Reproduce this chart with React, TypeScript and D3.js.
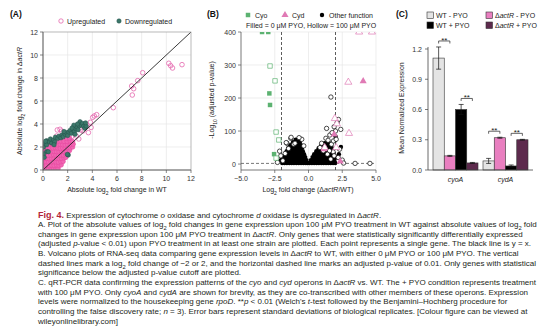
import React from "react";
import * as d3 from "d3";

const FONT = "'Liberation Sans', Arial, Helvetica, sans-serif";

// ---------------- Panel A data ----------------
const aTicks = [0, 2, 4, 6, 8, 10, 12];
const upOutliers: number[][] = [
  [11.27, 9.16], [10.2, 9.28], [10.35, 9.07], [10.5, 8.87], [8.08, 8.46], [7.68, 7.77],
  [7.19, 7.3], [7.35, 7.07], [7.24, 6.52], [5.7, 5.42], [4.35, 4.81], [4.16, 4.7],
  [4.03, 4.58], [3.84, 4.15], [3.68, 3.25], [3.05, 3.48], [1.38, 3.54], [1.16, 3.48],
  [1.5, 3.38], [1.1, 2.95], [2.32, 2.9], [3.55, 3.95], [3.25, 3.4], [2.7, 2.95],
  [1.75, 3.2], [3.9, 3.7], [2.9, 2.7],
];
const upDense: number[][] = [
  [0.05, 0.1], [0.25, 0.12], [0.45, 0.08], [0.66, 0.1], [0.85, 0.13], [1.05, 0.1], [1.22, 0.12],
  [0.1, 0.4], [0.3, 0.42], [0.5, 0.38], [0.7, 0.41], [0.9, 0.4], [1.1, 0.43], [1.3, 0.39], [1.48, 0.45],
  [0.05, 0.7], [0.25, 0.72], [0.45, 0.69], [0.65, 0.7], [0.85, 0.73], [1.05, 0.7], [1.25, 0.68], [1.45, 0.72], [1.63, 0.75],
  [0.1, 1.0], [0.3, 1.02], [0.5, 0.98], [0.7, 1.01], [0.9, 1.0], [1.1, 1.03], [1.3, 0.99], [1.5, 1.02], [1.7, 1.05], [1.85, 1.1],
  [0.05, 1.3], [0.25, 1.32], [0.45, 1.29], [0.65, 1.3], [0.85, 1.33], [1.05, 1.3], [1.25, 1.28], [1.45, 1.31], [1.65, 1.3], [1.85, 1.34], [2.0, 1.4],
  [0.1, 1.6], [0.3, 1.62], [0.5, 1.59], [0.7, 1.6], [0.9, 1.63], [1.1, 1.6], [1.3, 1.58], [1.5, 1.61], [1.7, 1.6], [1.9, 1.64], [2.15, 1.7],
  [0.05, 1.9], [0.3, 1.92], [0.55, 1.89], [0.8, 1.9], [1.0, 1.93], [1.2, 1.9], [1.4, 1.88], [1.6, 1.91], [1.8, 1.9], [2.0, 1.94], [2.2, 1.92], [2.4, 2.0],
  [0.5, 2.2], [0.75, 2.22], [1.0, 2.19], [1.2, 2.2], [1.4, 2.23], [1.6, 2.2], [1.8, 2.18], [2.0, 2.21], [2.2, 2.2], [2.45, 2.25],
  [1.2, 2.5], [1.45, 2.52], [1.7, 2.49], [1.95, 2.5], [2.2, 2.53], [2.4, 2.48],
  [1.9, 2.75], [2.15, 2.78],
];
const down: number[][] = [
  [0.05, 2.0], [0.15, 2.3], [0.3, 2.55], [0.3, 2.2], [0.5, 2.45], [0.7, 2.35], [0.6, 2.7], [0.85, 2.6],
  [0.95, 2.45], [1.0, 2.85], [1.2, 2.75], [1.3, 2.95], [1.45, 2.8], [1.55, 3.05], [1.65, 2.9], [1.8, 3.1],
  [1.9, 3.25], [2.0, 3.0], [2.1, 3.3], [2.2, 3.45], [2.3, 3.2], [2.45, 3.5], [2.55, 3.35], [2.65, 3.6],
  [2.75, 3.75], [2.85, 3.5], [2.95, 3.85], [3.0, 4.2], [3.1, 3.9], [3.2, 4.05], [3.3, 3.8], [3.4, 3.62],
  [3.5, 3.83], [3.45, 4.1], [2.5, 3.9], [2.8, 4.0], [0.3, 1.6], [0.43, 1.59], [0.2, 2.5], [2.05, 1.3],
  [1.97, 1.36], [0.9, 2.2], [1.7, 3.35], [2.35, 3.65], [0.05, 1.4], [0.1, 1.1], [2.6, 3.1],
];

// ---------------- Panel B data ----------------
const bXTicks = [-5, -2.5, 0, 2.5, 5];
const bYTicks = [0, 100, 200, 300, 400];
const fcCutoffs = [-2, 2];
const pCutoff = 2;
const cyoFilled: number[][] = [[-3.44, 400], [-2.98, 400], [-2.9, 214], [-2.85, 179], [-2.55, 30]];
const cyoHollow: number[][] = [[-2.85, 297], [-2.48, 252], [-2.4, 97], [-2.2, 73], [-2.4, 18]];
const cydFilled: number[][] = [[4.05, 251], [1.9, 90], [2.35, 8], [1.15, 45]];
const cydHollow: number[][] = [[1.95, 138], [2.1, 122], [3.0, 93], [2.95, 248], [3.75, 400], [4.7, 400], [1.2, 50], [2.05, 50]];
const otherFilled: number[][] = [
  [-1.95, 3], [-1.78, 3], [-1.6, 3], [-1.42, 3], [-1.25, 3], [-1.08, 3], [-0.9, 3], [-0.72, 3], [-0.55, 3], [-0.38, 3], [-0.2, 3], [-0.07, 3],
  [-1.88, 12], [-1.7, 12], [-1.52, 12], [-1.35, 12], [-1.18, 12], [-1.0, 12], [-0.83, 12], [-0.66, 12], [-0.48, 12], [-0.3, 12], [-0.15, 12],
  [-1.8, 21], [-1.62, 21], [-1.45, 21], [-1.28, 21], [-1.1, 21], [-0.93, 21], [-0.76, 21], [-0.58, 21], [-0.4, 21], [-0.24, 21],
  [-1.72, 30], [-1.55, 30], [-1.38, 30], [-1.2, 30], [-1.03, 30], [-0.86, 30], [-0.68, 30], [-0.5, 30], [-0.33, 30],
  [-1.62, 39], [-1.45, 39], [-1.28, 39], [-1.1, 39], [-0.93, 39], [-0.76, 39], [-0.58, 39], [-0.42, 39],
  [-1.5, 48], [-1.33, 48], [-1.16, 48], [-0.98, 48], [-0.8, 48], [-0.63, 48], [-0.5, 48],
  [-1.35, 57], [-1.18, 57], [-1.0, 57], [-0.83, 57], [-0.66, 57], [-0.56, 57],
  [-1.15, 66], [-0.98, 66], [-0.82, 66], [-0.65, 66],
  [-0.95, 74], [-0.8, 74], [-0.7, 73],
  [0.08, 3], [0.25, 3], [0.42, 3], [0.6, 3], [0.77, 3], [0.95, 3], [1.12, 3], [1.3, 3], [1.47, 3], [1.65, 3], [1.82, 3], [1.98, 3],
  [0.18, 12], [0.35, 12], [0.52, 12], [0.7, 12], [0.87, 12], [1.05, 12], [1.22, 12], [1.4, 12], [1.57, 12], [1.75, 12], [1.92, 12],
  [0.3, 21], [0.47, 21], [0.65, 21], [0.82, 21], [1.0, 21], [1.17, 21], [1.35, 21], [1.52, 21], [1.7, 21], [1.87, 21],
  [0.42, 30], [0.6, 30], [0.77, 30], [0.95, 30], [1.12, 30], [1.3, 30], [1.47, 30], [1.65, 30], [1.82, 30],
  [0.58, 39], [0.75, 39], [0.93, 39], [1.1, 39], [1.28, 39], [1.45, 39], [1.62, 39], [1.78, 39],
  [0.75, 48], [0.92, 48], [1.1, 48], [1.27, 48], [1.45, 48], [1.62, 48], [1.75, 48],
  [0.95, 56], [1.12, 56], [1.3, 56], [1.47, 56], [1.62, 56],
  [1.2, 63], [1.38, 63], [1.52, 63],
  [-1.8, 22], [-2.05, 12], [2.0, 84], [2.05, 20], [2.4, 52], [2.25, 30], [1.96, 71],
];
const otherHollow: number[][] = [
  [1.66, 203], [2.22, 135], [2.12, 125], [1.9, 113], [2.39, 105], [1.34, 108], [1.58, 88], [1.29, 78],
  [0.97, 63], [-1.31, 78], [-1.6, 63], [-2.14, 39], [-1.48, 47], [-1.73, 32], [1.82, 37], [-1.65, 65],
  [-1.29, 81], [2.0, 100], [1.75, 95], [1.45, 72], [1.7, 60], [2.3, 45], [1.55, 40], [1.9, 25], [2.2, 20],
  [2.5, 12], [1.4, 30], [-1.9, 10], [-2.05, 25], [-1.1, 60], [-0.5, 75], [-0.7, 80], [-0.35, 55], [1.2, 52],
  [1.1, 40], [1.85, 70], [2.05, 75], [3.45, 2], [4.55, 2], [2.6, 3], [-2.3, 5], [-1.0, 63], [0.85, 50], [1.65, 15],
];

// ---------------- Panel C data ----------------
const genes = ["cyoA", "cydA"];
const conditions = ["WT - PYO", "ΔactR - PYO", "WT + PYO", "ΔactR + PYO"];
const cyoMeans = [1.11, 0.14, 0.6, 0.07];
const cyoSD = [0.11, 0.005, 0.05, 0.005];
const cydMeans = [0.09, 0.32, 0.04, 0.3];
const cydSD = [0.025, 0.005, 0.01, 0.004];
const cTicks = [0, 0.3, 0.6, 0.9, 1.2];
const sigPairs = [[0, 1], [2, 3]];
const condColors = ["#e4e4e4", "#e97fc0", "#000000", "#5d2a4d"];

const PINK = "#e466ad";
const TEAL = "#3b7769";
const GREEN = "#5cb271";
const CYD = "#e07ab5";

function Sub({ t }: { t: string }) {
  return <tspan baselineShift="sub" fontSize="0.72em">{t}</tspan>;
}

function PanelA() {
  const x = d3.scaleLinear().domain([0, 12]).range([43, 191]);
  const y = d3.scaleLinear().domain([0, 12]).range([170, 32]);
  return (
    <g>
      <defs>
        <clipPath id="clipA"><rect x={x(0)} y={y(12)} width={x(12) - x(0)} height={y(0) - y(12)} /></clipPath>
      </defs>
      {aTicks.slice(1, -1).map((t) => (
        <g key={"g" + t}>
          <line x1={x(t)} x2={x(t)} y1={y(0)} y2={y(12)} stroke="#e6e6e6" strokeWidth={0.7} />
          <line x1={x(0)} x2={x(12)} y1={y(t)} y2={y(t)} stroke="#e6e6e6" strokeWidth={0.7} />
        </g>
      ))}
      <g clipPath="url(#clipA)">
        {upDense.map((d, i) => (
          <circle key={"ud" + i} cx={x(d[0])} cy={y(d[1])} r={2.3} fill="#f065b2" stroke="#e8489f" strokeWidth={0.6} />
        ))}
        {upOutliers.map((d, i) => (
          <circle key={"uo" + i} cx={x(d[0])} cy={y(d[1])} r={2.3} fill="none" stroke={PINK} strokeWidth={0.8} />
        ))}
        {down.map((d, i) => (
          <circle key={"dn" + i} cx={x(d[0])} cy={y(d[1])} r={2.2} fill={TEAL} stroke="#22504a" strokeWidth={0.5} />
        ))}
        <line x1={x(0)} y1={y(0)} x2={x(12)} y2={y(12)} stroke="#222" strokeWidth={0.9} />
      </g>
      <rect x={x(0)} y={y(12)} width={x(12) - x(0)} height={y(0) - y(12)} fill="none" stroke="#9a9a9a" strokeWidth={0.7} />
      <line x1={x(0)} x2={x(0)} y1={y(0)} y2={y(12)} stroke="#555" strokeWidth={0.8} />
      <line x1={x(0)} x2={x(12)} y1={y(0)} y2={y(0)} stroke="#555" strokeWidth={0.8} />
      {aTicks.map((t) => (
        <g key={"t" + t} fontSize={7} fill="#333">
          <line x1={x(0) - 3} x2={x(0)} y1={y(t)} y2={y(t)} stroke="#555" strokeWidth={0.7} />
          <text x={x(0) - 5} y={y(t) + 2.5} textAnchor="end">{t}</text>
          <line x1={x(t)} x2={x(t)} y1={y(0)} y2={y(0) + 3} stroke="#555" strokeWidth={0.7} />
          <text x={x(t)} y={y(0) + 10.5} textAnchor="middle">{t}</text>
        </g>
      ))}
      <text x={117} y={192} textAnchor="middle" fontSize={7} fill="#222">
        Absolute log<Sub t="2" /> fold change in WT
      </text>
      <text transform="translate(22,101) rotate(-90)" textAnchor="middle" fontSize={7} fill="#222">
        Absolute log<Sub t="2" /> fold change in Δ<tspan fontStyle="italic">actR</tspan>
      </text>
      <text x={10} y={17} fontSize={8.5} fontWeight="bold" fill="#111">(A)</text>
      <circle cx={61} cy={21} r={2.2} fill="none" stroke={PINK} strokeWidth={0.8} />
      <text x={67} y={23.5} fontSize={7} fill="#222">Upregulated</text>
      <circle cx={119} cy={21} r={2.2} fill={TEAL} stroke="#22504a" strokeWidth={0.5} />
      <text x={125} y={23.5} fontSize={7} fill="#222">Downregulated</text>
    </g>
  );
}

function PanelB() {
  const x = d3.scaleLinear().domain([-5, 5]).range([241, 376]);
  const y = d3.scaleLinear().domain([-18, 400]).range([170, 32]);
  const sq = d3.symbol().type(d3.symbolSquare).size(20)() as string;
  const tri = d3.symbol().type(d3.symbolTriangle).size(22)() as string;
  return (
    <g>
      <defs>
        <clipPath id="clipB"><rect x={x(-5)} y={y(400)} width={x(5) - x(-5) + 4} height={y(-18) - y(400)} /></clipPath>
      </defs>
      {bXTicks.slice(1).map((t) => (
        <line key={"gx" + t} x1={x(t)} x2={x(t)} y1={y(-18)} y2={y(400)} stroke="#e6e6e6" strokeWidth={0.7} />
      ))}
      {bYTicks.slice(1).map((t) => (
        <line key={"gy" + t} x1={x(-5)} x2={x(5)} y1={y(t)} y2={y(t)} stroke="#e6e6e6" strokeWidth={0.7} />
      ))}
      {fcCutoffs.map((c) => (
        <line key={"fc" + c} x1={x(c)} x2={x(c)} y1={y(-18)} y2={y(400)} stroke="#333" strokeWidth={0.8} strokeDasharray="3,2" />
      ))}
      <line x1={x(-5)} x2={x(5)} y1={y(pCutoff)} y2={y(pCutoff)} stroke="#555" strokeWidth={0.8} strokeDasharray="3,2" />
      <g clipPath="url(#clipB)">
        {otherFilled.map((d, i) => (
          <circle key={"of" + i} cx={x(d[0])} cy={y(d[1])} r={2.2} fill="#000" />
        ))}
        {otherHollow.map((d, i) => (
          <circle key={"oh" + i} cx={x(d[0])} cy={y(d[1])} r={2.2} fill="#fff" stroke="#000" strokeWidth={0.7} />
        ))}
        {cyoFilled.map((d, i) => (
          <path key={"cf" + i} d={sq} transform={`translate(${x(d[0])},${y(d[1])})`} fill={GREEN} />
        ))}
        {cyoHollow.map((d, i) => (
          <path key={"ch" + i} d={sq} transform={`translate(${x(d[0])},${y(d[1])})`} fill="#fff" stroke={GREEN} strokeWidth={0.7} />
        ))}
        {cydFilled.map((d, i) => (
          <path key={"df" + i} d={tri} transform={`translate(${x(d[0])},${y(d[1])})`} fill={CYD} />
        ))}
        {cydHollow.map((d, i) => (
          <path key={"dh" + i} d={tri} transform={`translate(${x(d[0])},${y(d[1])})`} fill="#fff" stroke={CYD} strokeWidth={0.7} />
        ))}
      </g>
      <line x1={x(-5)} x2={x(-5)} y1={y(-18)} y2={y(400)} stroke="#555" strokeWidth={0.8} />
      <line x1={x(-5)} x2={x(5)} y1={y(-18)} y2={y(-18)} stroke="#555" strokeWidth={0.8} />
      {bYTicks.map((t) => (
        <g key={"yt" + t} fontSize={7} fill="#333">
          <line x1={x(-5) - 3} x2={x(-5)} y1={y(t)} y2={y(t)} stroke="#555" strokeWidth={0.7} />
          <text x={x(-5) - 5} y={y(t) + 2.5} textAnchor="end">{t}</text>
        </g>
      ))}
      {bXTicks.map((t) => (
        <g key={"xt" + t} fontSize={7} fill="#333">
          <line x1={x(t)} x2={x(t)} y1={y(-18)} y2={y(-18) + 3} stroke="#555" strokeWidth={0.7} />
          <text x={x(t)} y={y(-18) + 10.5} textAnchor="middle">{d3.format(".1f")(t)}</text>
        </g>
      ))}
      <text x={308} y={192} textAnchor="middle" fontSize={7} fill="#222">
        Log<Sub t="2" /> fold change (Δ<tspan fontStyle="italic">actR</tspan>/WT)
      </text>
      <text transform="translate(214,100) rotate(-90)" textAnchor="middle" fontSize={7} fill="#222">
        -Log<Sub t="10" /> (adjusted p-value)
      </text>
      <text x={207} y={17} fontSize={8.5} fontWeight="bold" fill="#111">(B)</text>
      <path d={sq} transform="translate(248,15)" fill={GREEN} />
      <text x={255} y={17.5} fontSize={7} fill="#222">Cyo</text>
      <path d={tri} transform="translate(285,15)" fill={CYD} />
      <text x={292} y={17.5} fontSize={7} fill="#222">Cyd</text>
      <circle cx={322} cy={15} r={2.2} fill="#000" />
      <text x={329} y={17.5} fontSize={7} fill="#222">Other function</text>
      <text x={246} y={27.5} fontSize={7} fill="#222">Filled = 0 μM PYO, Hollow = 100 μM PYO</text>
    </g>
  );
}

function PanelC() {
  const y = d3.scaleLinear().domain([0, 1.2]).range([170, 49]);
  const xg = d3.scaleBand().domain(genes).range([428, 533]).paddingInner(0.1).paddingOuter(0.1);
  const xc = d3.scaleBand().domain(conditions).range([0, xg.bandwidth()]);
  const means = [cyoMeans, cydMeans];
  const sds = [cyoSD, cydSD];
  return (
    <g>
      {genes.map((g, gi) => (
        <g key={g} transform={`translate(${xg(g)},0)`}>
          {conditions.map((c, ci) => {
            const m = means[gi][ci];
            const s = sds[gi][ci];
            const bx = xc(c) as number;
            const cx = bx + xc.bandwidth() / 2;
            return (
              <g key={c}>
                <rect x={bx} y={y(m)} width={xc.bandwidth()} height={y(0) - y(m)} fill={condColors[ci]} stroke="#333" strokeWidth={0.6} />
                <line x1={cx} x2={cx} y1={y(m - s)} y2={y(m + s)} stroke="#111" strokeWidth={0.7} />
                <line x1={cx - 2.5} x2={cx + 2.5} y1={y(m + s)} y2={y(m + s)} stroke="#111" strokeWidth={0.7} />
                <line x1={cx - 2.5} x2={cx + 2.5} y1={y(m - s)} y2={y(m - s)} stroke="#111" strokeWidth={0.7} />
              </g>
            );
          })}
          {sigPairs.map(([a, b]) => {
            const top = Math.max(means[gi][a] + sds[gi][a], means[gi][b] + sds[gi][b]);
            const by = y(top) - 6;
            const x1 = (xc(conditions[a]) as number) + xc.bandwidth() / 2;
            const x2 = (xc(conditions[b]) as number) + xc.bandwidth() / 2;
            return (
              <g key={a + "-" + b}>
                <path d={`M${x1},${by + 2.5}V${by}H${x2}V${by + 2.5}`} fill="none" stroke="#222" strokeWidth={0.7} />
                <text x={(x1 + x2) / 2} y={by + 2} textAnchor="middle" fontSize={8} fill="#222">**</text>
              </g>
            );
          })}
          <text x={xg.bandwidth() / 2} y={182} textAnchor="middle" fontSize={7} fontStyle="italic" fill="#222">{g}</text>
        </g>
      ))}
      <line x1={428} x2={428} y1={y(0)} y2={y(1.22)} stroke="#444" strokeWidth={0.8} />
      <line x1={428} x2={533} y1={y(0)} y2={y(0)} stroke="#444" strokeWidth={0.8} />
      {cTicks.map((t) => (
        <g key={"ct" + t} fontSize={7} fill="#333">
          <line x1={425} x2={428} y1={y(t)} y2={y(t)} stroke="#444" strokeWidth={0.7} />
          <text x={422} y={y(t) + 2.5} textAnchor="end">{d3.format(".1f")(t)}</text>
        </g>
      ))}
      <text transform="translate(404,108) rotate(-90)" textAnchor="middle" fontSize={7} fill="#222">Mean Normalized Expression</text>
      <text x={396} y={17} fontSize={8.5} fontWeight="bold" fill="#111">(C)</text>
      {conditions.map((c, i) => {
        const col = i === 0 || i === 2 ? 0 : 1;
        const rx = col === 0 ? 427 : 486;
        const ry = i < 2 ? 12 : 22;
        const isA = c.startsWith("Δ");
        return (
          <g key={"lg" + c}>
            <rect x={rx} y={ry} width={6.5} height={6.5} fill={condColors[i]} stroke="#333" strokeWidth={0.6} />
            <text x={rx + 9} y={ry + 6} fontSize={7} fill="#222">
              {isA ? (<>Δ<tspan fontStyle="italic">actR</tspan>{c.slice(5)}</>) : c}
            </text>
          </g>
        );
      })}
    </g>
  );
}

type Seg = [string, string];
const captionLines: Seg[][] = [
  [["Fig. 4.", "r"], [" Expression of cytochrome ", "n"], ["o", "i"], [" oxidase and cytochrome ", "n"], ["d", "i"], [" oxidase is dysregulated in Δ", "n"], ["actR", "i"], [".", "n"]],
  [["A. Plot of the absolute values of log", "n"], ["2", "s"], [" fold changes in gene expression upon 100 μM PYO treatment in WT against absolute values of log", "n"], ["2", "s"], [" fold", "n"]],
  [["changes in gene expression upon 100 μM PYO treatment in Δ", "n"], ["actR", "i"], [". Only genes that were statistically significantly differentially expressed", "n"]],
  [["(adjusted ", "n"], ["p", "i"], ["-value < 0.01) upon PYO treatment in at least one strain are plotted. Each point represents a single gene. The black line is y = x.", "n"]],
  [["B. Volcano plots of RNA-seq data comparing gene expression levels in Δ", "n"], ["actR", "i"], [" to WT, with either 0 μM PYO or 100 μM PYO. The vertical", "n"]],
  [["dashed lines mark a log", "n"], ["2", "s"], [" fold change of −2 or 2, and the horizontal dashed line marks an adjusted p-value of 0.01. Only genes with statistical", "n"]],
  [["significance below the adjusted p-value cutoff are plotted.", "n"]],
  [["C. qRT-PCR data confirming the expression patterns of the ", "n"], ["cyo", "i"], [" and ", "n"], ["cyd", "i"], [" operons in Δ", "n"], ["actR", "i"], [" vs. WT. The + PYO condition represents treatment", "n"]],
  [["with 100 μM PYO. Only ", "n"], ["cyoA", "i"], [" and ", "n"], ["cydA", "i"], [" are shown for brevity, as they are co-transcribed with other members of these operons. Expression", "n"]],
  [["levels were normalized to the housekeeping gene ", "n"], ["rpoD", "i"], [". **", "n"], ["p", "i"], [" < 0.01 (Welch's ", "n"], ["t", "i"], ["-test followed by the Benjamini–Hochberg procedure for", "n"]],
  [["controlling the false discovery rate; ", "n"], ["n", "i"], [" = 3). Error bars represent standard deviations of biological replicates. [Colour figure can be viewed at", "n"]],
  [["wileyonlinelibrary.com]", "n"]],
];

function Caption() {
  return (
    <g fontSize={8} fill="#231f20">
      {captionLines.map((line, li) => (
        <text key={li} x={38} y={217.5 + li * 9.65}>
          {line.map(([t, s], si) => {
            if (s === "r") return <tspan key={si} fill="#b3243a" fontSize={9} fontWeight="bold">{t}</tspan>;
            if (s === "i") return <tspan key={si} fontStyle="italic">{t}</tspan>;
            if (s === "s") return <tspan key={si} baselineShift="sub" fontSize="0.72em">{t}</tspan>;
            return <tspan key={si}>{t}</tspan>;
          })}
        </text>
      ))}
    </g>
  );
}

export default function App() {
  return (
    <svg width={554} height={333} viewBox="0 0 554 333" style={{ position: "absolute", left: 0, top: 0, background: "#fff" }} fontFamily={FONT}>
      <rect width={554} height={333} fill="#fff" />
      <PanelA />
      <PanelB />
      <PanelC />
      <Caption />
    </svg>
  );
}
